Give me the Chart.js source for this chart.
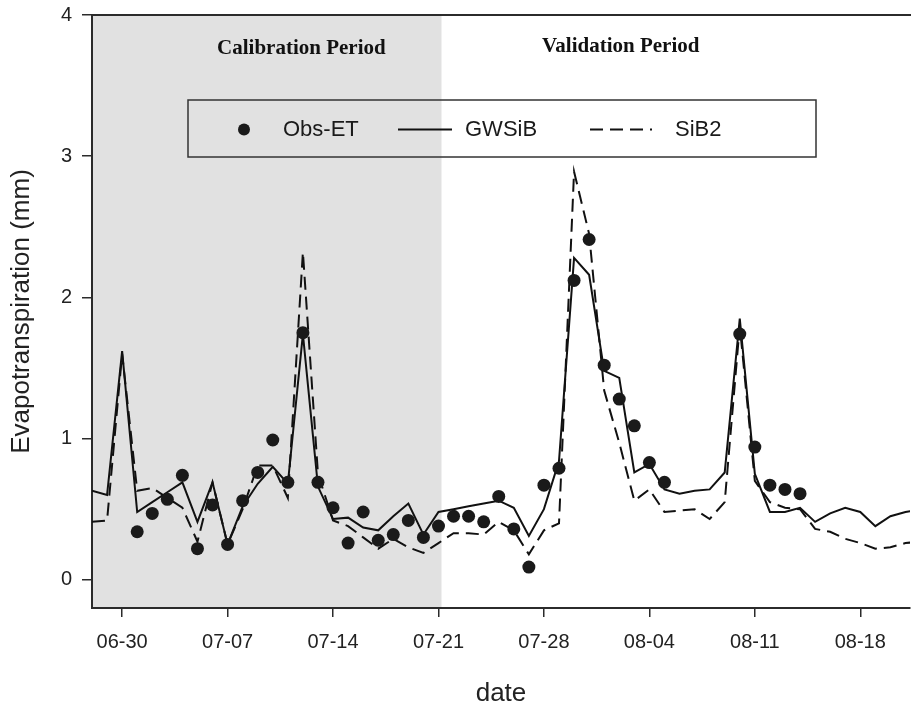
<!DOCTYPE html>
<html>
<head>
<meta charset="utf-8">
<script src="https://cdn.jsdelivr.net/npm/chart.js@4.4.0/dist/chart.umd.min.js"></script>
<style>
  html, body { margin: 0; padding: 0; background: #fff; }
  #wrap { width: 911px; height: 711px; position: relative; }
</style>
</head>
<body>
<div id="wrap"><canvas id="etChart"></canvas></div>
<script>
// --- Data (daily, 06-28 .. 08-22) ---
const dates = [
    '06-28', '06-29', '06-30', '07-01', '07-02', '07-03', '07-04', '07-05', '07-06', '07-07',
    '07-08', '07-09', '07-10', '07-11', '07-12', '07-13', '07-14', '07-15', '07-16', '07-17',
    '07-18', '07-19', '07-20', '07-21', '07-22', '07-23', '07-24', '07-25', '07-26', '07-27',
    '07-28', '07-29', '07-30', '07-31', '08-01', '08-02', '08-03', '08-04', '08-05', '08-06',
    '08-07', '08-08', '08-09', '08-10', '08-11', '08-12', '08-13', '08-14', '08-15', '08-16',
    '08-17', '08-18', '08-19', '08-20', '08-21', '08-22'
];

const obsET = [
    null, null, null, 0.34, 0.47, 0.57, 0.74, 0.22, 0.53, 0.25,
    0.56, 0.76, 0.99, 0.69, 1.75, 0.69, 0.51, 0.26, 0.48, 0.28,
    0.32, 0.42, 0.30, 0.38, 0.45, 0.45, 0.41, 0.59, 0.36, 0.09,
    0.67, 0.79, 2.12, 2.41, 1.52, 1.28, 1.09, 0.83, 0.69, null,
    null, null, null, 1.74, 0.94, 0.67, 0.64, 0.61, null, null,
    null, null, null, null, null, null
];

const gwsib = [
    0.63, 0.60, 1.62, 0.48, 0.55, 0.62, 0.69, 0.41, 0.69, 0.25,
    0.52, 0.68, 0.80, 0.68, 1.74, 0.66, 0.43, 0.44, 0.37, 0.35,
    0.45, 0.54, 0.32, 0.48, 0.50, 0.52, 0.54, 0.56, 0.51, 0.31,
    0.50, 0.84, 2.28, 2.16, 1.48, 1.43, 0.76, 0.82, 0.64, 0.61,
    0.63, 0.64, 0.76, 1.85, 0.75, 0.48, 0.48, 0.51, 0.41, 0.47,
    0.51, 0.48, 0.38, 0.45, 0.48, 0.50
];

const sib2 = [
    0.41, 0.42, 1.60, 0.63, 0.65, 0.58, 0.51, 0.27, 0.69, 0.25,
    0.50, 0.81, 0.81, 0.58, 2.32, 0.75, 0.42, 0.38, 0.30, 0.22,
    0.29, 0.23, 0.19, 0.26, 0.33, 0.33, 0.32, 0.41, 0.35, 0.18,
    0.35, 0.40, 2.89, 2.45, 1.34, 0.97, 0.56, 0.64, 0.48, 0.49,
    0.50, 0.43, 0.55, 1.80, 0.70, 0.55, 0.51, 0.50, 0.36, 0.34,
    0.29, 0.26, 0.22, 0.23, 0.26, 0.27
];

const xTickLabels = ['06-30', '07-07', '07-14', '07-21', '07-28', '08-04', '08-11', '08-18'];
const yTicks = [0, 1, 2, 3, 4];
const periodNames = ['Calibration Period', 'Validation Period'];

// day number relative to 06-30
const originIndex = dates.indexOf('06-30');
const dayOf = label => dates.indexOf(label) - originIndex;
const calibrationEnd = dayOf('07-21') + 0.2;

function toPoints(values) {
    return values.map((v, i) => ({ x: i - originIndex, y: v })).filter(p => p.y !== null);
}

const axisColor = '#2b2b2b';

// gray calibration band, period captions, top frame line and legend box
const periodPlugin = {
    id: 'periods',
    beforeDraw(chart) {
        const { ctx, chartArea, scales: { x } } = chart;
        const xEnd = x.getPixelForValue(calibrationEnd);
        ctx.save();
        ctx.fillStyle = '#e1e1e1';
        ctx.fillRect(chartArea.left, chartArea.top, xEnd - chartArea.left, chartArea.bottom - chartArea.top);
        ctx.restore();
    },
    afterDatasetsDraw(chart) {
        const { ctx, chartArea, scales: { x, y } } = chart;
        ctx.save();

        // top frame line
        ctx.strokeStyle = axisColor;
        ctx.lineWidth = 2;
        ctx.beginPath();
        ctx.moveTo(chartArea.left, chartArea.top);
        ctx.lineTo(chart.width, chartArea.top);
        ctx.stroke();

        // period captions
        ctx.fillStyle = '#111';
        ctx.font = 'bold 21px "Liberation Serif", "Times New Roman", serif';
        ctx.textAlign = 'center';
        ctx.textBaseline = 'middle';
        ctx.fillText(periodNames[0], x.getPixelForValue(11.9), y.getPixelForValue(3.765));
        ctx.fillText(periodNames[1], x.getPixelForValue(33.1), y.getPixelForValue(3.775));

        // legend box
        const box = { left: 188, top: 100, right: 816, bottom: 157 };
        const midY = (box.top + box.bottom) / 2 + 1;
        ctx.strokeStyle = '#333';
        ctx.lineWidth = 1.5;
        ctx.strokeRect(box.left, box.top, box.right - box.left, box.bottom - box.top);

        ctx.font = '22px "Liberation Sans", Arial, sans-serif';
        ctx.textAlign = 'left';
        const ds = chart.data.datasets;

        ctx.fillStyle = '#1a1a1a';
        ctx.beginPath();
        ctx.arc(244, midY, 6, 0, Math.PI * 2);
        ctx.fill();
        ctx.fillText(ds[0].label, 283, midY);

        ctx.strokeStyle = '#111';
        ctx.lineWidth = 2;
        ctx.beginPath();
        ctx.moveTo(398, midY);
        ctx.lineTo(452, midY);
        ctx.stroke();
        ctx.fillText(ds[1].label, 465, midY);

        ctx.setLineDash([13, 7]);
        ctx.beginPath();
        ctx.moveTo(590, midY);
        ctx.lineTo(652, midY);
        ctx.stroke();
        ctx.setLineDash([]);
        ctx.fillText(ds[2].label, 675, midY);

        ctx.restore();
    }
};

const tickFont = { family: '"Liberation Sans", Arial, sans-serif', size: 20 };
const titleFont = { family: '"Liberation Sans", Arial, sans-serif', size: 26 };

new Chart(document.getElementById('etChart'), {
    type: 'scatter',
    data: {
        datasets: [
            {
                label: 'Obs-ET',
                data: toPoints(obsET),
                showLine: false,
                pointRadius: 6.5,
                pointHoverRadius: 6.5,
                pointBackgroundColor: '#1a1a1a',
                pointBorderWidth: 0,
                order: 0
            },
            {
                label: 'GWSiB',
                data: toPoints(gwsib),
                showLine: true,
                borderColor: '#111',
                borderWidth: 2,
                pointRadius: 0,
                tension: 0,
                order: 1
            },
            {
                label: 'SiB2',
                data: toPoints(sib2),
                showLine: true,
                borderColor: '#111',
                borderWidth: 2,
                borderDash: [13, 7],
                pointRadius: 0,
                tension: 0,
                order: 2
            }
        ]
    },
    options: {
        responsive: true,
        maintainAspectRatio: false,
        animation: false,
        layout: { autoPadding: false, padding: { top: 15, right: 1, left: 0, bottom: 0 } },
        plugins: {
            legend: { display: false },
            tooltip: { enabled: false }
        },
        scales: {
            x: {
                type: 'linear',
                min: dayOf('06-28'),
                max: 52.3,
                afterBuildTicks: scale => {
                    scale.ticks = xTickLabels.map(l => ({ value: dayOf(l) }));
                },
                afterFit: scale => {
                    scale.height = 103;
                    scale.paddingLeft = 0;
                    scale.paddingRight = 0;
                },
                ticks: {
                    color: '#222',
                    font: tickFont,
                    padding: 13,
                    maxRotation: 0,
                    callback: value => dates[value + originIndex]
                },
                grid: {
                    display: true,
                    drawOnChartArea: false,
                    drawTicks: true,
                    tickLength: 9,
                    color: axisColor,
                    lineWidth: 1.5
                },
                border: { display: true, color: axisColor, width: 2 },
                title: {
                    display: true,
                    text: 'date',
                    color: '#222',
                    font: titleFont,
                    padding: { top: 0, bottom: 2 }
                }
            },
            y: {
                min: -0.2,
                max: 4,
                afterBuildTicks: scale => {
                    scale.ticks = yTicks.map(v => ({ value: v }));
                },
                afterFit: scale => {
                    scale.width = 92;
                    scale.paddingTop = 0;
                    scale.paddingBottom = 0;
                },
                ticks: {
                    color: '#222',
                    font: tickFont,
                    padding: 10
                },
                grid: {
                    display: true,
                    drawOnChartArea: false,
                    drawTicks: true,
                    tickLength: 10,
                    color: axisColor,
                    lineWidth: 1.5
                },
                border: { display: true, color: axisColor, width: 2 },
                title: {
                    display: true,
                    text: 'Evapotranspiration (mm)',
                    color: '#222',
                    font: titleFont,
                    padding: { top: 6, bottom: 0 }
                }
            }
        }
    },
    plugins: [periodPlugin]
});
</script>
</body>
</html>
